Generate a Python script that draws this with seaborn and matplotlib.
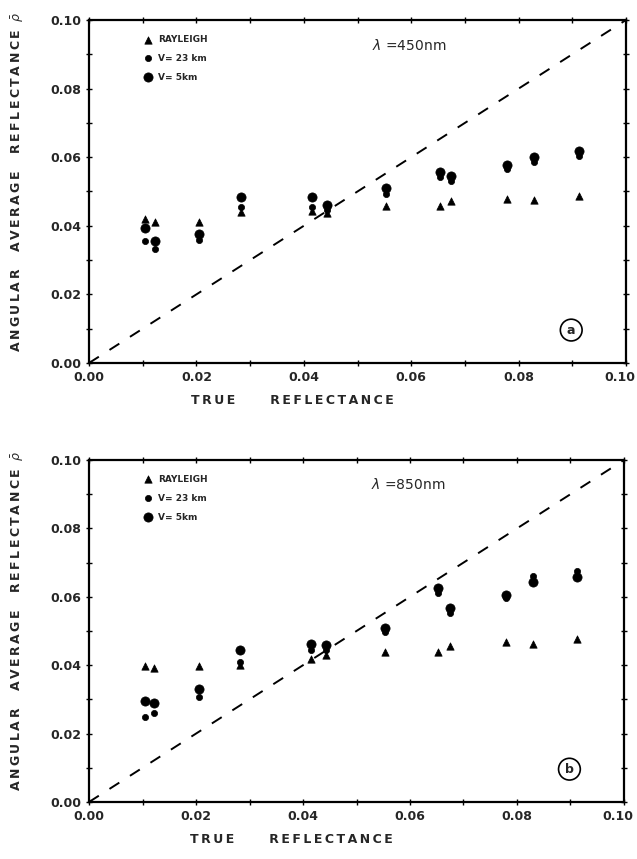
import matplotlib
matplotlib.use("Agg")
import matplotlib.pyplot as plt
import matplotlib.transforms as mtransforms
import seaborn as sns
import pandas as pd
import numpy as np

sns.set_style("ticks")
plt.rcParams["font.family"] = ["DejaVu Sans"]

# True surface reflectance of the sampled targets
true_refl = [0.0105, 0.0122, 0.0205, 0.0283, 0.0415, 0.0443,
             0.0554, 0.0653, 0.0674, 0.0779, 0.0829, 0.0913]

# (a) lambda = 450 nm
a_rayleigh = [0.0420, 0.0410, 0.0410, 0.0440, 0.0443, 0.0437,
              0.0458, 0.0458, 0.0472, 0.0478, 0.0475, 0.0487]
a_v23 = [0.0356, 0.0332, 0.0360, 0.0455, 0.0455, 0.0446,
         0.0493, 0.0542, 0.0531, 0.0566, 0.0586, 0.0603]
a_v5 = [0.0394, 0.0356, 0.0376, 0.0484, 0.0484, 0.0460,
        0.0510, 0.0557, 0.0545, 0.0577, 0.0600, 0.0618]

# (b) lambda = 850 nm
b_rayleigh = [0.0398, 0.0392, 0.0398, 0.0400, 0.0418, 0.0430,
              0.0439, 0.0439, 0.0456, 0.0468, 0.0462, 0.0477]
b_v23 = [0.0249, 0.0260, 0.0307, 0.0410, 0.0444, 0.0444,
         0.0497, 0.0611, 0.0553, 0.0596, 0.0661, 0.0675]
b_v5 = [0.0295, 0.0290, 0.0330, 0.0444, 0.0462, 0.0460,
        0.0510, 0.0626, 0.0567, 0.0605, 0.0643, 0.0658]

series_labels = ["RAYLEIGH", "V= 23 km", "V= 5km"]
wavelengths = ["450nm", "850nm"]
panel_tags = ["a", "b"]
ticks_major = [0.00, 0.02, 0.04, 0.06, 0.08, 0.10]
tick_labels = ["0.00", "0.02", "0.04", "0.06", "0.08", "0.10"]

markers = {"RAYLEIGH": "^", "V= 23 km": "o", "V= 5km": "o"}
msizes = {"RAYLEIGH": 28, "V= 23 km": 20, "V= 5km": 44}

panels = [
    (a_rayleigh, a_v23, a_v5),
    (b_rayleigh, b_v23, b_v5),
]


def spaced(word):
    """Letter-space a word with thin spaces."""
    return "\u2009".join(word)


xlabel_text = spaced("TRUE") + "        " + spaced("REFLECTANCE")
ylabel_text = (spaced("ANGULAR") + "    " + spaced("AVERAGE") + "    " +
               spaced("REFLECTANCE") + "  " + r"$\bar{\rho}$")

fig = plt.figure(figsize=(6.37, 8.59), dpi=100)
axes_rects = [
    [89 / 637, (859 - 363) / 859, 537 / 637, 343 / 859],
    [89 / 637, (859 - 802) / 859, 535 / 637, 342 / 859],
]

for rect, vals, wl, tag in zip(axes_rects, panels, wavelengths, panel_tags):
    ax = fig.add_axes(rect)
    frames = []
    for name, v in zip(series_labels, vals):
        frames.append(pd.DataFrame({"true": true_refl, "avg": v, "series": name}))
    df = pd.concat(frames, ignore_index=True)

    # 1:1 reference line
    ax.plot([0, 0.1], [0, 0.1], color="black", lw=1.4,
            dashes=(6, 6.5), zorder=1)

    for name in series_labels:
        sub = df[df["series"] == name]
        sns.scatterplot(data=sub, x="true", y="avg", ax=ax,
                        marker=markers[name], s=msizes[name],
                        color="black", edgecolor="black", linewidth=0.5,
                        label=name, zorder=3)

    ax.set_xlim(0, 0.1)
    ax.set_ylim(0, 0.1)
    ax.set_xticks(ticks_major)
    ax.set_xticklabels(tick_labels, fontsize=9, fontweight="bold")
    ax.set_yticks(ticks_major)
    ax.set_yticklabels(tick_labels, fontsize=9, fontweight="bold")
    ax.set_xticks(np.arange(0.01, 0.1, 0.02), minor=True)
    ax.set_yticks(np.arange(0.01, 0.1, 0.02), minor=True)
    ax.tick_params(which="both", direction="inout", top=True, right=True,
                   width=1.0, color="black")
    ax.tick_params(which="major", length=5, pad=3)
    ax.tick_params(which="minor", length=4)
    for sp in ax.spines.values():
        sp.set_linewidth(1.6)
        sp.set_color("black")

    # keep the rightmost x tick label inside the figure
    last = ax.get_xticklabels()[-1]
    last.set_transform(last.get_transform() +
                       mtransforms.ScaledTranslation(-6 / 100, 0,
                                                     fig.dpi_scale_trans))

    ax.set_xlabel(xlabel_text, fontsize=9, fontweight="bold")
    ax.xaxis.set_label_coords((292 - 89) / 537, -0.09)
    ax.set_ylabel(ylabel_text, fontsize=9, fontweight="bold")
    ax.yaxis.set_label_coords(-0.118, 0.53)

    leg = ax.legend(loc="upper left", bbox_to_anchor=(0.09, 0.975),
                    frameon=False, fontsize=6.5, handletextpad=0.6,
                    labelspacing=1.1, handlelength=1.0, borderpad=0.2)
    for t in leg.get_texts():
        t.set_fontweight("bold")

    ax.text(0.527, 0.927, r"$\lambda$ =" + wl, transform=ax.transAxes,
            fontsize=10, ha="left", va="center")
    ax.text(0.898, 0.096, tag, transform=ax.transAxes, fontsize=9,
            fontweight="bold", ha="center", va="center",
            bbox=dict(boxstyle="circle,pad=0.35", fc="white", ec="black",
                      lw=1.2))

fig.savefig("out.png", dpi=100)
